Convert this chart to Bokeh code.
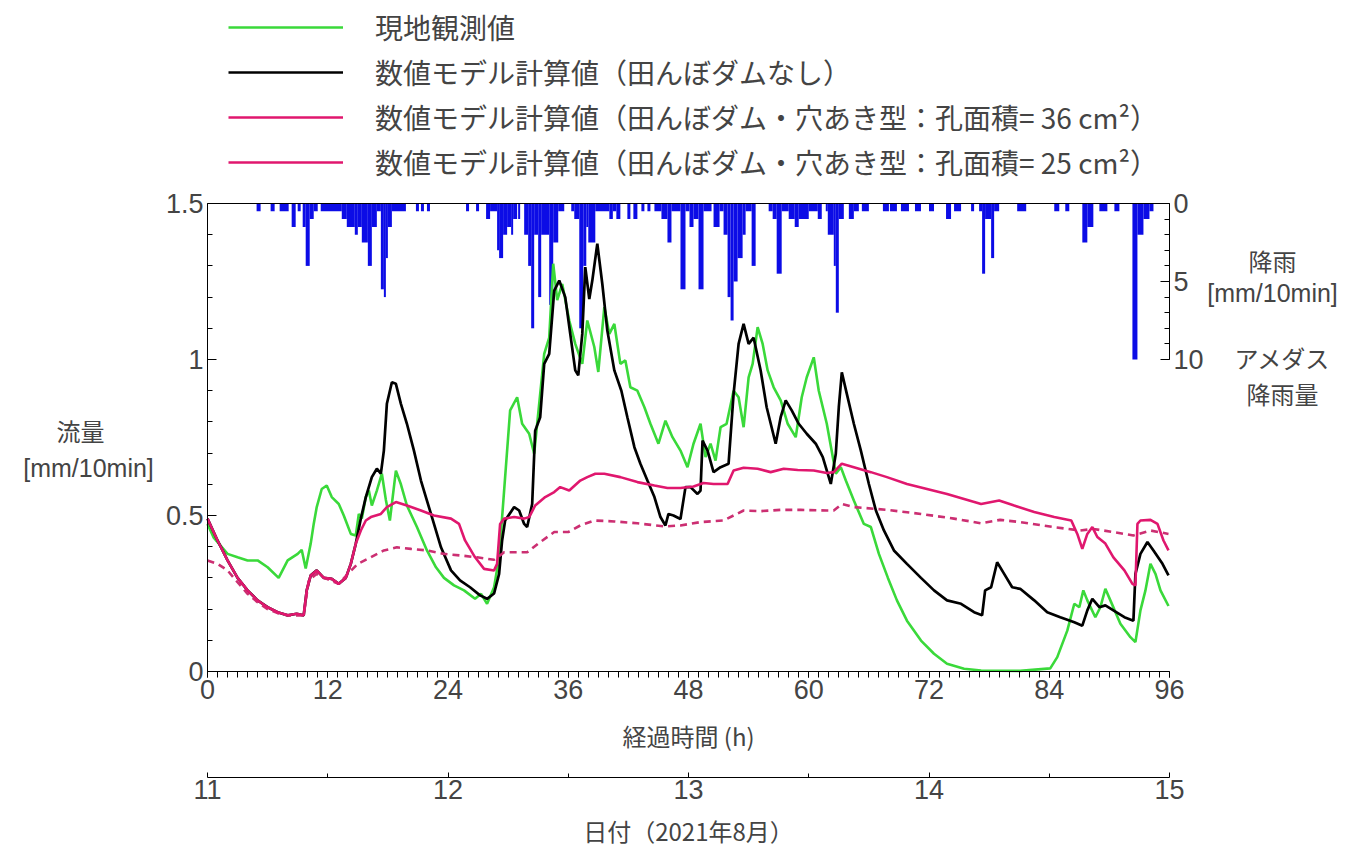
from bokeh.plotting import figure
from bokeh.models import (Range1d, LinearAxis, FixedTicker, NumeralTickFormatter, Label,
                          Legend, LegendItem)
from bokeh.embed import file_html
from bokeh.resources import INLINE

# ---------------- data ----------------
green_t = [0, 0.6, 2, 3, 4, 5, 6, 7.1, 8, 9, 9.4, 9.8, 10.3, 10.6, 10.9, 11.4, 11.9, 12.4, 13.1, 13.6,
           14.3, 14.8, 15.1, 15.4, 15.8, 16.1, 16.4, 16.9, 17.4, 17.8, 18.2, 18.8, 19.3, 19.9, 20.9, 21.9,
           22.8, 23.6, 24.6, 25.6, 26.7, 27.3, 27.9, 28.6, 29.1, 29.6, 30.2, 30.9, 31.4, 32.1, 32.6, 33.1,
           33.6, 34.1, 34.5, 34.9, 35.4, 36.1, 36.7, 37.4, 37.9, 38.6, 39.0, 39.6, 40.1, 40.6, 41.2, 41.7,
           42.2, 42.9, 43.6, 44.2, 45.0, 45.7, 46.4, 47.2, 47.9, 48.5, 49.2, 49.7, 50.2, 50.7, 51.2, 51.8,
           52.5, 53.0, 53.5, 54.0, 54.4, 54.9, 55.4, 55.9, 56.5, 57.2, 57.9, 58.7, 59.3, 59.8, 60.5, 61.0,
           61.8, 62.7, 63.2, 63.7, 64.5, 65.5, 66.2, 67.0, 67.9, 68.8, 69.8, 71.2, 72.5, 73.8, 75.5, 77.2,
           81.1, 84.1, 84.8, 85.8, 86.5, 87.0, 87.4, 87.8, 88.6, 89.1, 89.6, 90.1, 91.1, 92.1, 92.6, 93.1,
           93.6, 94.1, 94.6, 95.1, 95.9]
green_v = [0.473, 0.43, 0.377, 0.366, 0.356, 0.356, 0.334, 0.30, 0.356, 0.377, 0.39, 0.33, 0.41, 0.473,
           0.527, 0.585, 0.596, 0.559, 0.537, 0.50, 0.441, 0.436, 0.505, 0.49, 0.559, 0.58, 0.532, 0.58,
           0.634, 0.55, 0.484, 0.644, 0.60, 0.532, 0.463, 0.388, 0.334, 0.30, 0.276, 0.26, 0.233, 0.249,
           0.217, 0.27, 0.366, 0.58, 0.837, 0.879, 0.794, 0.762, 0.698, 0.858, 1.018, 1.07, 1.307, 1.19,
           1.242, 1.125, 1.05, 0.986, 1.125, 1.04, 0.96, 1.168, 1.082, 1.114, 0.986, 0.997, 0.911, 0.90,
           0.847, 0.794, 0.73, 0.804, 0.751, 0.708, 0.655, 0.73, 0.794, 0.687, 0.73, 0.676, 0.783, 0.794,
           0.90, 0.879, 0.783, 0.943, 0.986, 1.104, 1.05, 0.965, 0.911, 0.869, 0.794, 0.751, 0.879, 0.943,
           1.007, 0.90, 0.794, 0.634, 0.655, 0.612, 0.548, 0.473, 0.463, 0.377, 0.30, 0.228, 0.163, 0.099,
           0.057, 0.025, 0.009, 0.003, 0.002, 0.01, 0.046, 0.131, 0.217, 0.206, 0.26, 0.228, 0.174, 0.206,
           0.265, 0.228, 0.153, 0.11, 0.094, 0.196, 0.26, 0.345, 0.313, 0.26, 0.21]

black_t = [0, 1, 2, 3, 4, 5, 6, 7, 8, 8.9, 9.6, 9.9, 10.3, 10.9, 11.6, 12.4, 13.1, 13.8, 14.3, 14.8,
           15.3, 15.8, 16.4, 16.9, 17.3, 17.6, 17.9, 18.4, 18.8, 19.3, 19.9, 20.6, 21.3, 21.9, 22.6, 23.3,
           24.3, 25.2, 26.2, 27.2, 27.9, 28.6, 29.1, 29.4, 29.7, 30.6, 31.1, 31.6, 31.9, 32.4, 32.7, 33.2,
           33.6, 34.1, 34.6, 35.1, 35.7, 36.2, 36.7, 37.0, 37.4, 37.7, 38.1, 38.4, 38.9, 39.4, 39.9, 40.6,
           41.3, 41.9, 42.6, 43.2, 43.9, 44.6, 45.2, 45.7, 46.0, 46.5, 47.2, 47.7, 48.2, 48.9, 49.2, 49.4,
           49.9, 50.5, 51.2, 52.0, 52.5, 53.0, 53.5, 54.0, 54.5, 55.2, 55.8, 56.7, 57.2, 57.7, 58.3, 59.0,
           59.8, 60.7, 61.4, 62.2, 62.7, 63.0, 63.3, 63.8, 64.5, 65.2, 66.0, 66.7, 67.5, 68.5, 69.8, 71.2,
           72.5, 73.8, 75.2, 76.5, 77.3, 77.6, 78.2, 78.8, 79.5, 80.3, 81.1, 82.5, 83.8, 85.1, 86.5, 87.3,
           87.8, 88.3, 89.0, 89.6, 90.4, 91.5, 92.4, 92.6, 93.1, 93.8, 94.4, 95.3, 95.9]
black_v = [0.49, 0.42, 0.356, 0.30, 0.26, 0.228, 0.206, 0.19, 0.18, 0.185, 0.18, 0.26, 0.308, 0.324,
           0.30, 0.297, 0.281, 0.30, 0.345, 0.41, 0.49, 0.559, 0.623, 0.65, 0.634, 0.708, 0.858, 0.927,
           0.922, 0.858, 0.794, 0.708, 0.612, 0.548, 0.473, 0.398, 0.324, 0.292, 0.27, 0.244, 0.233, 0.25,
           0.313, 0.42, 0.484, 0.527, 0.516, 0.473, 0.463, 0.537, 0.772, 0.815, 0.986, 1.018, 1.221, 1.253,
           1.2, 1.082, 0.965, 0.949, 1.082, 1.296, 1.194, 1.253, 1.371, 1.242, 1.093, 0.965, 0.90, 0.815,
           0.719, 0.666, 0.612, 0.559, 0.495, 0.468, 0.505, 0.50, 0.489, 0.591, 0.591, 0.569, 0.58, 0.74,
           0.708, 0.639, 0.655, 0.666, 0.89, 1.05, 1.114, 1.05, 1.07, 0.965, 0.847, 0.73, 0.815, 0.869,
           0.837, 0.794, 0.762, 0.73, 0.687, 0.601, 0.698, 0.847, 0.959, 0.89, 0.794, 0.708, 0.601, 0.516,
           0.452, 0.388, 0.345, 0.30, 0.26, 0.228, 0.217, 0.19, 0.18, 0.26, 0.27, 0.35, 0.313, 0.27, 0.265,
           0.228, 0.19, 0.174, 0.158, 0.147, 0.196, 0.233, 0.206, 0.212, 0.196, 0.174, 0.163, 0.313, 0.377,
           0.415, 0.388, 0.345, 0.308]

dam36_t = [0, 1, 2, 3, 4, 5, 6, 7, 8, 8.9, 9.6, 9.9, 10.3, 10.9, 11.6, 12.4, 13.1, 13.8, 14.3, 14.8,
           15.3, 15.8, 16.3, 17.3, 17.9, 18.8, 19.9, 21.3, 22.6, 24.3, 25.1, 25.7, 26.7, 27.6, 28.6, 28.9,
           29.2, 29.6, 30.6, 31.6, 32.1, 32.7, 33.7, 34.6, 35.2, 36.1, 37.2, 37.9, 38.7, 39.6, 41.2, 42.9,
           44.6, 45.9, 47.2, 48.5, 49.5, 50.5, 51.9, 52.5, 53.5, 54.9, 56.2, 57.5, 58.9, 60.5, 61.8, 62.5,
           63.3, 64.5, 66.2, 67.8, 69.8, 71.8, 73.8, 75.5, 77.2, 79.0, 80.5, 82.5, 84.5, 86.2, 86.8, 87.3,
           87.8, 88.3, 88.8, 89.6, 90.4, 91.5, 92.3, 92.6, 92.8, 93.1, 94.1, 94.8, 95.4, 95.9]
dam36_v = [0.49, 0.42, 0.356, 0.30, 0.26, 0.228, 0.206, 0.19, 0.18, 0.185, 0.18, 0.26, 0.308, 0.324,
           0.30, 0.297, 0.281, 0.30, 0.345, 0.41, 0.452, 0.484, 0.495, 0.505, 0.527, 0.543, 0.532, 0.516,
           0.50, 0.49, 0.473, 0.42, 0.366, 0.329, 0.324, 0.345, 0.473, 0.49, 0.495, 0.49, 0.495, 0.532,
           0.559, 0.575, 0.591, 0.58, 0.612, 0.623, 0.634, 0.634, 0.623, 0.607, 0.596, 0.588, 0.588, 0.593,
           0.604, 0.601, 0.601, 0.644, 0.653, 0.65, 0.639, 0.65, 0.646, 0.644, 0.636, 0.639, 0.666, 0.655,
           0.639, 0.623, 0.601, 0.585, 0.569, 0.553, 0.537, 0.548, 0.532, 0.511, 0.495, 0.484, 0.441, 0.393,
           0.441, 0.463, 0.431, 0.41, 0.366, 0.324, 0.281, 0.276, 0.473, 0.484, 0.486, 0.473, 0.42, 0.388]

dam25_t = [0, 1, 2, 3, 4, 5, 6, 7, 8, 9.6, 10.1, 10.9, 11.9, 13.1, 14.0, 15.0, 16.3, 17.6, 18.9, 20.3,
           21.9, 23.6, 25.2, 26.9, 28.6, 29.6, 31.9, 33.0, 34.6, 36.0, 37.2, 38.6, 40.6, 42.9, 45.6, 47.2,
           49.2, 51.5, 52.5, 53.5, 55.2, 57.2, 59.2, 61.8, 62.5, 63.3, 64.5, 67.8, 71.2, 74.5, 77.2, 79.1,
           81.1, 84.4, 87.1, 88.4, 90.4, 92.4, 94.1, 95.9]
dam25_v = [0.356, 0.345, 0.324, 0.286, 0.249, 0.222, 0.20, 0.187, 0.18, 0.18, 0.292, 0.313, 0.297, 0.281,
           0.313, 0.345, 0.366, 0.388, 0.398, 0.393, 0.388, 0.377, 0.372, 0.366, 0.358, 0.382, 0.382, 0.41,
           0.447, 0.447, 0.468, 0.484, 0.481, 0.475, 0.465, 0.468, 0.479, 0.484, 0.50, 0.516, 0.514, 0.518,
           0.518, 0.516, 0.516, 0.537, 0.527, 0.518, 0.505, 0.49, 0.475, 0.486, 0.479, 0.463, 0.452, 0.457,
           0.447, 0.436, 0.452, 0.441]

# AMeDAS rainfall [mm/10min]: runs of equal amount (start h, end h, amount)
rain_start = [4.9, 6.3, 7.2, 8.4, 9.0, 9.5, 9.8, 10.2, 10.6, 11.3, 13.4, 13.9, 14.7, 15.0, 15.4, 16.0, 16.4,
              16.9, 17.3, 17.6, 17.8, 18.0, 18.4, 20.8, 21.3, 21.9, 25.8, 26.8, 27.8, 28.2, 28.9, 29.1,
              29.5, 29.9, 30.3, 30.5, 31.0, 31.6, 32.0, 32.3, 32.6, 33.0, 33.3, 34.1, 34.5, 35.0, 36.3,
              36.6, 37.1, 37.5, 37.8, 38.0, 38.7, 40.1, 40.45, 40.8, 41.9, 42.5, 43.3, 43.9, 44.6, 45.3,
              45.9, 46.3, 47.2, 47.7, 48.1, 48.5, 49.0, 49.5, 50.5, 51.1, 51.5, 51.9, 52.2, 52.5, 52.9,
              53.4, 53.7, 54.3, 56.0, 56.4, 56.8, 57.3, 58.0, 58.6, 59.0, 60.0, 60.9, 61.7, 61.9, 62.5,
              62.7, 63.0, 64.0, 64.5, 65.3, 67.4, 68.1, 69.2, 70.6, 72.0, 73.7, 74.5, 76.2, 77.0, 77.3,
              77.6, 78.2, 78.5, 80.8, 84.5, 85.6, 87.3, 87.8, 89.0, 90.5, 92.3, 92.8, 93.4, 94.0]
rain_end = [5.3, 6.7, 8.1, 8.8, 9.3, 9.8, 10.2, 10.6, 11.0, 13.4, 13.9, 14.7, 15.0, 15.4, 16.0, 16.4, 16.9,
            17.3, 17.6, 17.8, 18.0, 18.4, 19.8, 21.1, 21.6, 22.2, 26.1, 27.1, 28.2, 28.9, 29.1, 29.5,
            29.9, 30.3, 30.5, 30.9, 31.2, 32.0, 32.3, 32.6, 33.0, 33.3, 34.1, 34.5, 35.0, 35.6, 36.6,
            37.1, 37.5, 37.8, 38.0, 38.7, 40.1, 40.45, 40.8, 41.2, 42.2, 42.9, 43.6, 44.2, 45.3, 45.9,
            46.3, 47.2, 47.7, 48.1, 48.5, 49.0, 49.5, 50.3, 51.1, 51.5, 51.9, 52.2, 52.5, 52.9, 53.4,
            53.7, 54.3, 54.7, 56.4, 56.8, 57.3, 58.0, 58.6, 59.0, 60.0, 60.9, 61.3, 61.9, 62.5, 62.7,
            63.0, 63.5, 64.5, 65.0, 66.0, 68.0, 68.8, 70.0, 71.2, 72.5, 74.2, 75.2, 76.5, 77.3, 77.6,
            78.2, 78.5, 79.0, 81.7, 85.0, 86.0, 87.8, 88.4, 89.8, 91.0, 92.8, 93.4, 94.0, 94.4]
rain_mm = [0.5, 0.5, 0.5, 1.5, 0.5, 1.5, 4.0, 1.0, 0.5, 0.5, 1.0, 1.5, 2.0, 1.5, 2.5, 4.0, 1.5,
           0.5, 5.5, 6.0, 3.5, 1.5, 0.5, 0.5, 0.5, 0.5, 0.5, 0.5, 1.0, 0.5, 3.0, 3.5,
           2.0, 1.5, 2.0, 1.0, 1.0, 2.0, 4.0, 8.0, 2.0, 6.0, 2.0, 6.5, 2.5, 0.5, 0.5,
           1.0, 8.0, 4.0, 1.5, 2.5, 0.5, 1.0, 0.5, 1.0, 1.0, 1.0, 0.5, 0.5, 0.5, 1.0,
           2.5, 0.5, 5.5, 0.5, 1.5, 1.0, 5.5, 0.5, 1.5, 0.5, 2.0, 6.0, 7.5, 5.0, 3.5,
           2.0, 0.5, 4.0, 0.5, 1.0, 4.5, 0.5, 1.0, 1.5, 1.0, 0.5, 1.0, 0.5, 2.0, 4.0,
           7.0, 1.0, 1.0, 0.5, 0.5, 0.5, 0.5, 0.5, 0.5, 0.5, 1.0, 0.5, 0.5, 0.5, 4.5,
           1.0, 3.5, 0.5, 0.5, 0.5, 0.5, 2.5, 1.5, 0.5, 0.5, 10.0, 2.0, 1.0, 0.5]

flow_ticks = [0, 0.5, 1.0, 1.5]
flow_minor = [i / 10 for i in range(16)]
hour_ticks = list(range(0, 97, 12))
hour_minor = list(range(0, 97))
rain_ticks = [0, 5, 10]
rain_minor = list(range(0, 11))
day_ticks = [11, 12, 13, 14, 15]
day_minor = [11.5, 12.5, 13.5, 14.5]

labels = ["現地観測値",
          "数値モデル計算値（田んぼダムなし）",
          "数値モデル計算値（田んぼダム・穴あき型：孔面積= 36 cm²）",
          "数値モデル計算値（田んぼダム・穴あき型：孔面積= 25 cm²）"]

# ---------------- layout (pixels) ----------------
W, H = 1360, 851
FX0, FX1 = 207, 1169          # x pixel of 0 h and 96 h
FY0, FY15 = 671, 203          # y pixel of flow 0 and 1.5
RAIN_Y10 = 359                # y pixel of rain 10 mm
DATE_Y = 777                  # y pixel of the date axis line

pxh = (FX1 - FX0) / 96.0
pxv = (FY0 - FY15) / 1.5
pxr = (RAIN_Y10 - FY15) / 10.0

def tx(px):
    return (px - FX0) / pxh

def vy(py):
    return (FY0 - py) / pxv

JP = "Noto Sans CJK JP"
LAT = "Liberation Sans"
GREEN = "#3ad93a"
PINK = "#e0176e"
PINK2 = "#cc2f72"
BLUE = "#0c0ce6"

p = figure(width=W, height=H, x_range=Range1d(tx(0), tx(W)), y_range=Range1d(vy(H), vy(0)),
           output_backend="svg", toolbar_location=None, x_axis_type=None, y_axis_type=None,
           min_border=0, min_border_left=0, min_border_right=0, min_border_top=0, min_border_bottom=0)
p.outline_line_color = None
p.background_fill_color = "white"
p.border_fill_color = "white"
p.extra_y_ranges = {"rain": Range1d((H - FY15) / pxr, (0 - FY15) / pxr)}
p.extra_x_ranges = {"date": Range1d(11 + tx(0) / 24.0, 11 + tx(W) / 24.0)}

# left flow axis
yax = LinearAxis(ticker=FixedTicker(ticks=flow_ticks, minor_ticks=flow_minor),
                 formatter=NumeralTickFormatter(format="0.[0]"), bounds=(0, 1.5), fixed_location=0)
yax.major_tick_in = 9
yax.major_tick_out = 0
yax.minor_tick_in = 5
yax.minor_tick_out = 0
yax.major_label_text_font = LAT
yax.major_label_text_font_size = "27px"
yax.major_label_standoff = 4
p.add_layout(yax, "left")

# right rain axis
rax = LinearAxis(y_range_name="rain", ticker=FixedTicker(ticks=rain_ticks, minor_ticks=rain_minor),
                 bounds=(0, 10), fixed_location=96)
rax.major_tick_in = 9
rax.major_tick_out = 0
rax.minor_tick_in = 5
rax.minor_tick_out = 0
rax.major_label_text_font = LAT
rax.major_label_text_font_size = "27px"
rax.major_label_standoff = 4
p.add_layout(rax, "right")

# top frame line
tax = LinearAxis(ticker=FixedTicker(ticks=[]), bounds=(0, 96), fixed_location=1.5)
tax.major_tick_in = 0
tax.major_tick_out = 0
tax.minor_tick_in = 0
tax.minor_tick_out = 0
p.add_layout(tax, "above")

# elapsed hours axis
xax = LinearAxis(ticker=FixedTicker(ticks=hour_ticks, minor_ticks=hour_minor),
                 axis_label="経過時間 (h)", bounds=(0, 96), fixed_location=0)
xax.major_tick_in = 0
xax.major_tick_out = 6
xax.minor_tick_in = 0
xax.minor_tick_out = 6
xax.major_label_text_font = LAT
xax.major_label_text_font_size = "27px"
xax.major_label_standoff = 2
xax.axis_label_text_font = JP
xax.axis_label_text_font_size = "24px"
xax.axis_label_text_font_style = "normal"
xax.axis_label_standoff = 16
p.add_layout(xax, "below")

# date axis
dax = LinearAxis(x_range_name="date", ticker=FixedTicker(ticks=day_ticks, minor_ticks=day_minor),
                 axis_label="日付（2021年8月）", bounds=(11, 15), fixed_location=vy(DATE_Y))
dax.major_tick_in = 5
dax.major_tick_out = 0
dax.minor_tick_in = 4
dax.minor_tick_out = 0
dax.major_label_text_font = LAT
dax.major_label_text_font_size = "27px"
dax.major_label_standoff = 2
dax.axis_label_text_font = JP
dax.axis_label_text_font_size = "24px"
dax.axis_label_text_font_style = "normal"
dax.axis_label_standoff = 11
p.add_layout(dax, "below")

# rain bars (hanging from the top)
p.quad(left=rain_start, right=rain_end, top=0, bottom=rain_mm, y_range_name="rain",
       fill_color=BLUE, line_color=None)

r_green = p.line(green_t, green_v, line_color=GREEN, line_width=2.6)
r_black = p.line(black_t, black_v, line_color="black", line_width=2.7)
r_d25 = p.line(dam25_t, dam25_v, line_color=PINK2, line_width=2.6, line_dash="7 5")
r_d36 = p.line(dam36_t, dam36_v, line_color=PINK, line_width=2.6)
# legend key for the 25 cm2 case is drawn solid, as in the original legend
r_leg25 = p.line(dam25_t[:1], dam25_v[:1], line_color=PINK, line_width=2.6)

leg = Legend(items=[LegendItem(label=labels[0], renderers=[r_green]),
                    LegendItem(label=labels[1], renderers=[r_black]),
                    LegendItem(label=labels[2], renderers=[r_d36]),
                    LegendItem(label=labels[3], renderers=[r_leg25])],
             location=(228, H - 182), glyph_width=115, glyph_height=40, label_height=40, spacing=5,
             padding=0, margin=0, label_standoff=32, border_line_color=None, background_fill_alpha=0,
             label_text_font=JP, label_text_font_size="28px")
p.add_layout(leg)

def add_label(px, py, text, font, size):
    p.add_layout(Label(x=tx(px), y=vy(py), text=text, text_font=font, text_font_size=size,
                       text_align="center", text_baseline="middle"))

add_label(80, 430, "流量", JP, "24px")
add_label(88, 467, "[mm/10min]", LAT, "25px")
add_label(1272, 260, "降雨", JP, "24px")
add_label(1272, 292, "[mm/10min]", LAT, "25px")
add_label(1282, 357, "アメダス", JP, "24px")
add_label(1282, 393, "降雨量", JP, "24px")

open("out.html", "w").write(file_html(p, INLINE))
